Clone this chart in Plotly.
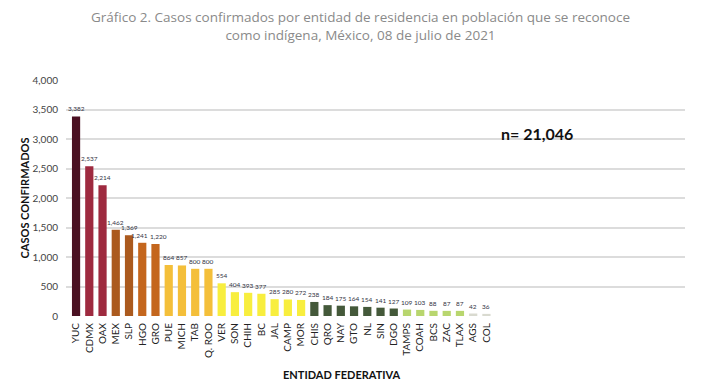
import plotly.graph_objects as go

estados = ["YUC", "CDMX", "OAX", "MEX", "SLP", "HGO", "GRO", "PUE", "MICH", "TAB", "Q. ROO",
           "VER", "SON", "CHIH", "BC", "JAL", "CAMP", "MOR", "CHIS", "QRO", "NAY", "GTO", "NL",
           "SIN", "DGO", "TAMPS", "COAH", "BCS", "ZAC", "TLAX", "AGS", "COL"]
casos = [3382, 2537, 2214, 1462, 1369, 1241, 1220, 864, 857, 800, 800,
         554, 404, 393, 377, 285, 280, 272, 238, 184, 175, 164, 154,
         141, 127, 109, 103, 88, 87, 87, 42, 36]
colores = (["#4a1022"] + ["#9e2a3f"] * 2 + ["#ab5a1e"] * 2 + ["#c4661d"] * 2 +
           ["#f4bf3a"] * 4 + ["#f8ee3e"] * 7 + ["#44593a"] * 7 + ["#b8d66e"] * 5 +
           ["#d9dad0"] * 2)
etiquetas = [f"{v:,}" for v in casos]
xs = list(range(len(estados)))
# small horizontal nudges (px) to keep adjacent labels apart
desplazamientos = {"HGO": -3, "GRO": 3}

fig = go.Figure()
fig.add_trace(go.Bar(
    x=xs, y=casos, marker_color=colores, marker_line_width=0, hoverinfo="skip",
))

anots = []
for xi, est, v, t in zip(xs, estados, casos, etiquetas):
    anots.append(dict(
        x=xi, y=v, xref="x", yref="y", text=t, showarrow=False,
        xanchor="center", yanchor="bottom", yshift=2, xshift=desplazamientos.get(est, 0),
        font=dict(size=6.5, color="#333344", family="Lato"),
    ))

anots += [
    dict(text="<b>ENTIDAD FEDERATIVA</b>", xref="paper", yref="paper", x=0.446, y=-0.21,
         xanchor="center", yanchor="top", showarrow=False,
         font=dict(size=11, color="#111111", family="Lato")),
    dict(text="<b>n= 21,046</b>", xref="paper", yref="y", x=0.761, y=3100,
         xanchor="center", yanchor="middle", showarrow=False,
         font=dict(size=16, color="#111111", family="Lato")),
]

fig.update_layout(
    width=705, height=378,
    margin=dict(l=58, r=28, t=72, b=70),
    paper_bgcolor="white", plot_bgcolor="white",
    bargap=0.38, showlegend=False,
    font=dict(family="Lato", color="#333333"),
    title=dict(
        text="Gráfico 2. Casos confirmados por entidad de residencia en población que se reconoce<br>como indígena, México, 08 de julio de 2021",
        x=0.5, xanchor="center", y=0.962, yanchor="top",
        font=dict(size=13.5, color="#8a8a8a", family="Open Sans"),
    ),
    xaxis=dict(
        tickmode="array", tickvals=xs, ticktext=estados, automargin=False,
        tickangle=-90, tickfont=dict(size=10, color="#222222", family="Lato"),
        ticklabelstandoff=4,
        range=[-0.76, 46], showgrid=False, zeroline=False, showline=False, ticks="",
    ),
    yaxis=dict(
        range=[0, 4000], dtick=500, tickformat=",", automargin=False,
        tickfont=dict(size=10, color="#444444", family="Lato"), ticklabelstandoff=7,
        showgrid=True, gridcolor="#dcdcdc", gridwidth=2, zeroline=False,
        title=dict(text="<b>CASOS CONFIRMADOS</b>", font=dict(size=11, color="#111111", family="Lato"), standoff=0),
    ),
    annotations=anots,
)

fig.write_html("out.html")
